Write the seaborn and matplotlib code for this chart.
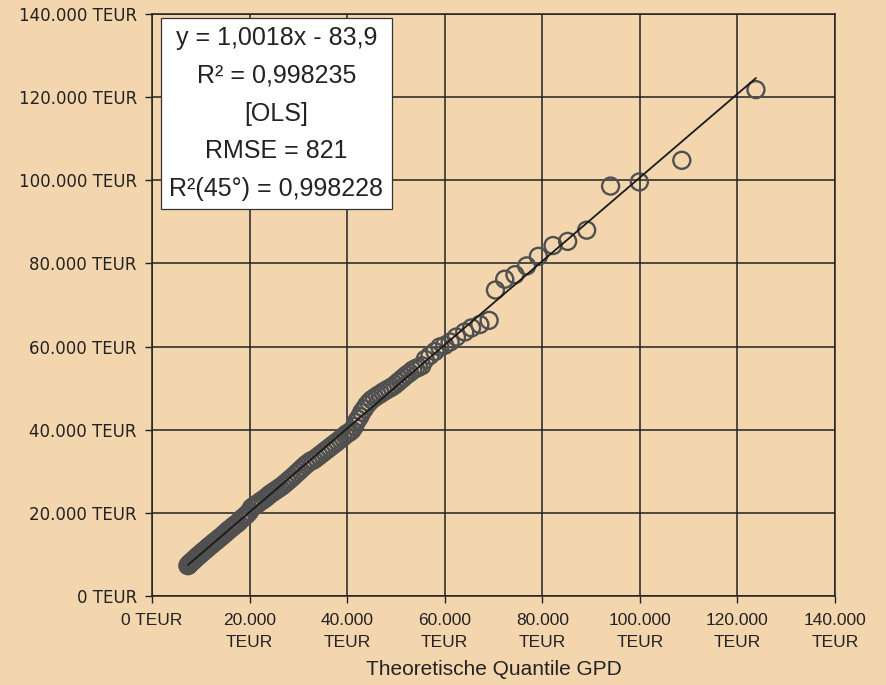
import numpy as np
import pandas as pd
import seaborn as sns
import matplotlib.pyplot as plt

theo_q = [7350, 7500, 7650, 7800, 8000, 8200, 8400, 8600, 8850, 9100,
          9350, 9600, 9850, 10100, 10400, 10700, 11000, 11300, 11600, 11900,
          12250, 12600, 12950, 13300, 13650, 14000, 14400, 14800, 15200, 15600,
          16000, 16400, 16800, 17250, 17700, 18150, 18600, 19050, 19500, 19950,
          20400, 20850, 21300, 21750, 22200, 22700, 23200, 23700, 24200, 24700,
          25200, 25700, 26200, 26700, 27200, 27700, 28200, 28700, 29250, 29800,
          30350, 30900, 31450, 32000, 32550, 33100, 33650, 34200, 34750, 35300,
          35850, 36400, 36950, 37500, 38050, 38600, 39100, 39600, 40000,
          40500, 41000, 41500, 41800, 42200, 42600, 43000, 43500, 44000, 44500,
          45000, 45600, 46200, 46800, 47400, 48000, 48600, 49200, 49800, 50400,
          51000, 51600, 52200, 52800, 53400, 54000, 54600, 55300, 56000, 57000,
          58000, 59000, 60000, 61100, 62400, 64100, 65500, 67200, 69100,
          70400, 72300, 74400, 76800, 79200, 82200, 85200, 89100, 94000,
          99900, 108600, 123800]
emp_q = [7300, 7450, 7700, 7900, 8050, 8250, 8500, 8700, 8950, 9300,
         9500, 9800, 10000, 10300, 10600, 10900, 11150, 11500, 11800, 12100,
         12400, 12800, 13100, 13400, 13800, 14100, 14500, 14900, 15300, 15800,
         16100, 16500, 16900, 17300, 17700, 18300, 18800, 19200, 19700, 20300,
         21200, 21600, 21900, 22300, 22700, 23100, 23500, 24000, 24500, 24900,
         25300, 25700, 26100, 26500, 27000, 27500, 28000, 28500, 29100, 29700,
         30300, 30900, 31500, 32000, 32500, 32700, 33200, 33700, 34200, 34700,
         35200, 35700, 36200, 36700, 37200, 37700, 38200, 38700, 39100,
         39400, 39900, 40800, 41700, 42500, 43200, 44200, 45000, 45900, 46600,
         47200, 47700, 48200, 48600, 49100, 49500, 49900, 50300, 50800, 51400,
         52000, 52600, 53200, 53700, 54300, 54700, 55000, 55400, 56900, 57900,
         58800, 59900, 60300, 61100, 62300, 63500, 64500, 65300, 66300,
         73600, 76200, 77300, 79400, 81700, 84300, 85300, 88000, 98600,
         99600, 104800, 121800]

x_ticks = [0, 20000, 40000, 60000, 80000, 100000, 120000, 140000]
x_tick_labels = ["0 TEUR", "20.000\nTEUR", "40.000\nTEUR", "60.000\nTEUR",
                 "80.000\nTEUR", "100.000\nTEUR", "120.000\nTEUR", "140.000\nTEUR"]
y_ticks = [0, 20000, 40000, 60000, 80000, 100000, 120000, 140000]
y_tick_labels = ["0 TEUR", "20.000 TEUR", "40.000 TEUR", "60.000 TEUR",
                 "80.000 TEUR", "100.000 TEUR", "120.000 TEUR", "140.000 TEUR"]

stats_text = "y = 1,0018x - 83,9\nR² = 0,998235\n[OLS]\nRMSE = 821\nR²(45°) = 0,998228"

df = pd.DataFrame({"theo": theo_q, "emp": emp_q})

sns.set_style("ticks")
plt.rcParams["font.family"] = ["Liberation Sans", "DejaVu Sans"]

bg = "#F4D6AE"
fig = plt.figure(figsize=(8.86, 6.85), dpi=100, facecolor=bg)
ax = fig.add_axes([0.1716, 0.1299, 0.7708, 0.8497])
ax.set_facecolor(bg)

sns.regplot(data=df, x="theo", y="emp", ax=ax, ci=None, truncate=True,
            scatter_kws={"s": 150, "facecolors": "none", "edgecolors": "#505050",
                         "linewidths": 1.7, "alpha": 1},
            line_kws={"color": "#1a1a1a", "lw": 1.3})

ax.set_xlim(0, 140000)
ax.set_ylim(0, 140000)
ax.set_xticks(x_ticks)
ax.set_xticklabels(x_tick_labels, fontsize=12.5, linespacing=1.6, color="#222222")
ax.set_yticks(y_ticks)
ax.set_yticklabels(y_tick_labels, fontsize=12, family="DejaVu Sans", color="#222222")
ax.set_axisbelow(True)
ax.grid(True, color="#222222", lw=1.1)
ax.tick_params(direction="out", length=5, width=1, color="#222222", pad=6)
ax.tick_params(axis="x", pad=7)
for sp in ax.spines.values():
    sp.set_visible(True)
    sp.set_color("#222222")
    sp.set_linewidth(1.1)

ax.set_xlabel("Theoretische Quantile GPD", fontsize=15, color="#222222", labelpad=7)
ax.set_ylabel("")

ax.text(0.182, 0.829, stats_text, transform=ax.transAxes, ha="center", va="center",
        multialignment="center", fontsize=18, linespacing=1.72, color="#222222",
        bbox=dict(boxstyle="square,pad=0.33", fc="white", ec="#333333", lw=0.9))

fig.savefig("out.png", dpi=100, facecolor=bg)
